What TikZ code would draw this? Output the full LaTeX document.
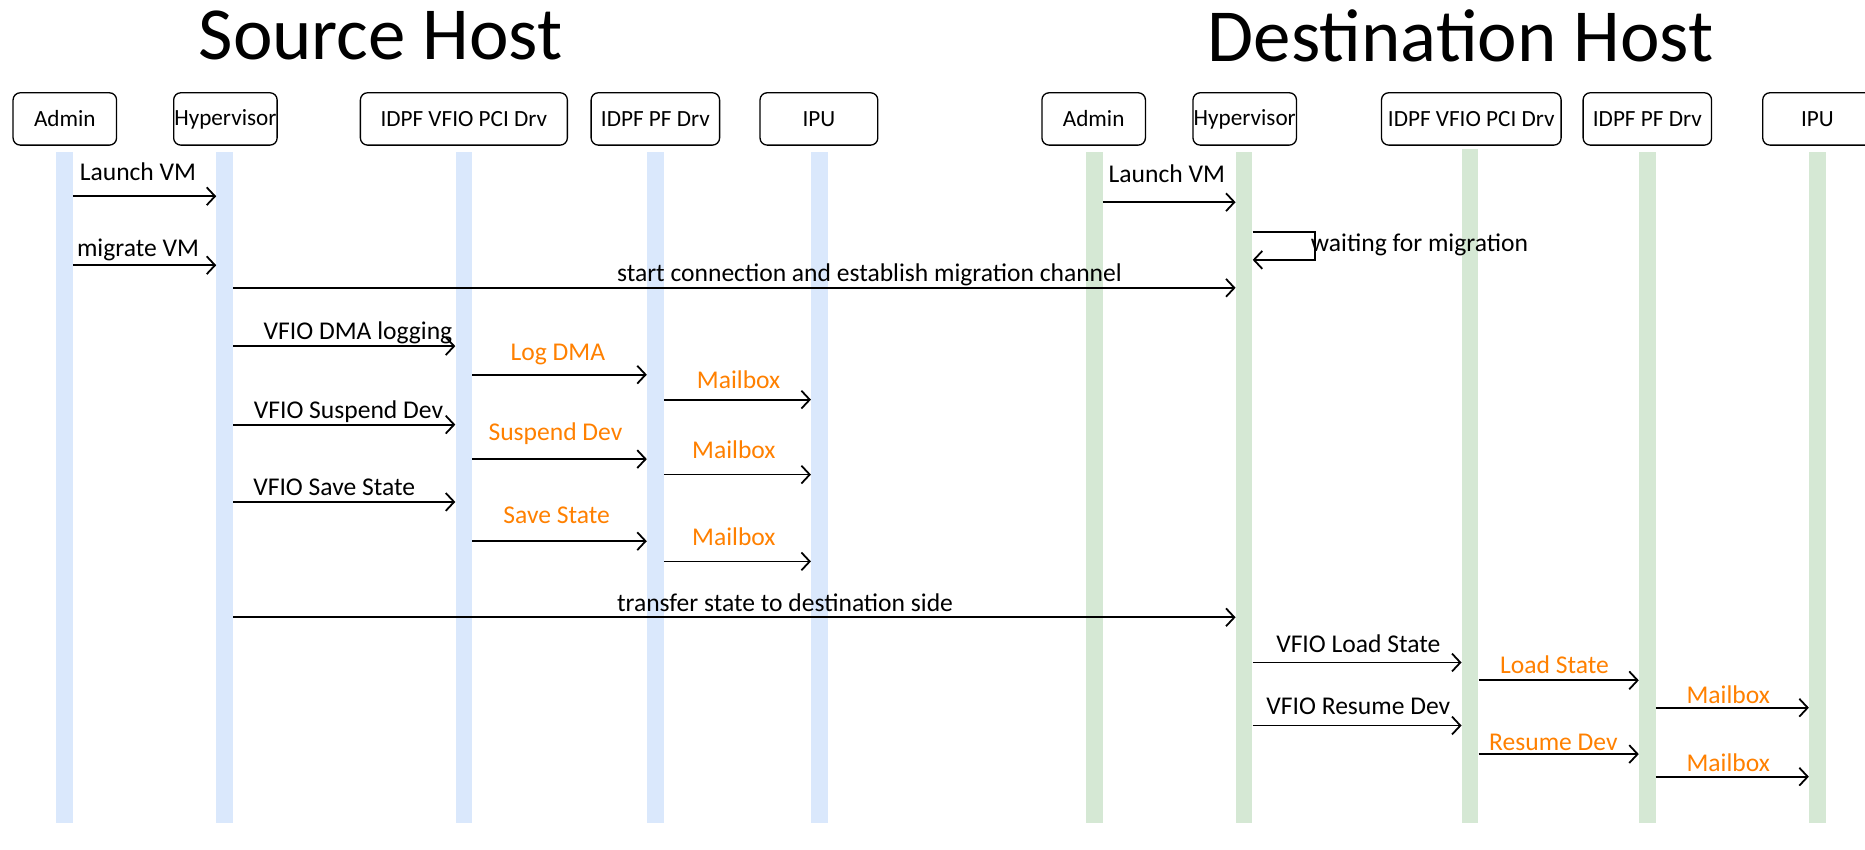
\documentclass[tikz,border=0pt]{standalone}
\usepackage{fontspec}
\setmainfont{Carlito}
\usetikzlibrary{arrows.meta}
\definecolor{srcbar}{HTML}{DAE8FC}
\definecolor{dstbar}{HTML}{D5E8D4}
\definecolor{drvorange}{HTML}{FF8000}
\begin{document}
\begin{tikzpicture}[x=1pt,y=-1pt,>={Straight Barb[length=7pt,width=15pt]},
  actor/.style={draw,rounded corners=6pt,line width=1.1pt,minimum height=44pt,inner sep=0pt,font=\fontsize{19.5}{19.5}\selectfont},
  srcline/.style={fill=srcbar,minimum width=14pt,minimum height=564pt,inner sep=0pt},
  dstline/.style={fill=dstbar,minimum width=14pt,minimum height=564pt,inner sep=0pt},
  msg/.style={->,line width=1.5pt},
  lbl/.style={font=\fontsize{21.5}{21.5}\selectfont,inner sep=0pt},
  olbl/.style={lbl,text=drvorange}]
\useasboundingbox (0,0) rectangle (1568,714);
\begin{scope}
\clip (0,0) rectangle (1568,714);
% titles
\node[font=\fontsize{63}{63}\selectfont,inner sep=0pt] (srctitle) at (320,30) {Source Host};
\node[font=\fontsize{63}{63}\selectfont,inner sep=0pt] (dsttitle) at (1228,30) {Destination Host};
% source host actors
\node[actor,minimum width=87pt] (sadm) at (54.5,100) {Admin};
\node[actor,minimum width=87pt] (shyp) at (189.5,100) {Hypervisor};
\node[actor,minimum width=174pt] (svfio) at (390,100) {IDPF VFIO PCI Drv};
\node[actor,minimum width=108pt] (spf) at (551,100) {IDPF PF Drv};
\node[actor,minimum width=99pt] (sipu) at (688.5,100) {IPU};
% destination host actors
\node[actor,minimum width=87pt] (dadm) at (919.5,100) {Admin};
\node[actor,minimum width=87pt] (dhyp) at (1046.5,100) {Hypervisor};
\node[actor,minimum width=151pt] (dvfio) at (1237,100) {IDPF VFIO PCI Drv};
\node[actor,minimum width=108pt] (dpf) at (1385,100) {IDPF PF Drv};
\node[actor,minimum width=92pt] (dipu) at (1528,100) {IPU};
\end{scope}
% lifelines
\node[srcline] (la) at (54,410) {};
\node[srcline] (lb) at (189,410) {};
\node[srcline] (lc) at (390,410) {};
\node[srcline] (ld) at (551,410) {};
\node[srcline] (le) at (689,410) {};
\node[dstline] (ma) at (920,410) {};
\node[dstline] (mb) at (1046,410) {};
\node[dstline,minimum height=567pt] (mc) at (1236,408.5) {};
\node[dstline] (md) at (1385,410) {};
\node[dstline] (me) at (1528,410) {};
% source host messages
\draw[msg] (la.east |- 0,165) -- (lb.west |- 0,165);
\node[lbl] (t1) at (116,144) {Launch VM};
\draw[msg] (la.east |- 0,223) -- (lb.west |- 0,223);
\node[lbl] (t2) at (116,210) {migrate VM};
\draw[msg] (lb.east |- 0,242) -- (mb.west |- 0,242);
\node[lbl] (t3) at (731,231) {start connection and establish migration channel};
\draw[msg] (lb.east |- 0,291) -- (lc.west |- 0,291);
\node[lbl] (t4) at (301,280) {VFIO DMA logging};
\draw[msg] (lc.east |- 0,315) -- (ld.west |- 0,315);
\node[olbl] (t5) at (469,298) {Log DMA};
\draw[msg] (ld.east |- 0,336) -- (le.west |- 0,336);
\node[olbl] (t6) at (621,319) {Mailbox};
\draw[msg] (lb.east |- 0,357) -- (lc.west |- 0,357);
\node[lbl] (t7) at (293,346) {VFIO Suspend Dev};
\draw[msg] (lc.east |- 0,386) -- (ld.west |- 0,386);
\node[olbl] (t8) at (467,365) {Suspend Dev};
\draw[msg] (ld.east |- 0,399) -- (le.west |- 0,399);
\node[olbl] (t9) at (617,378) {Mailbox};
\draw[msg] (lb.east |- 0,422) -- (lc.west |- 0,422);
\node[lbl] (t10) at (281,410) {VFIO Save State};
\draw[msg] (lc.east |- 0,455) -- (ld.west |- 0,455);
\node[olbl] (t11) at (468,433) {Save State};
\draw[msg] (ld.east |- 0,472) -- (le.west |- 0,472);
\node[olbl] (t12) at (617,451) {Mailbox};
\draw[msg] (lb.east |- 0,519) -- (mb.west |- 0,519);
\node[lbl] (t13) at (660,507) {transfer state to destination side};
% destination host messages
\draw[msg] (ma.east |- 0,170) -- (mb.west |- 0,170);
\node[lbl] (u1) at (981,146) {Launch VM};
\draw[msg] (mb.east |- 0,195) -- (1105.5,195) -- (1105.5,218.5) -- (mb.east |- 0,218.5);
\node[lbl,anchor=west] (u2) at (1102,206) {waiting for migration};
\draw[msg] (mb.east |- 0,557) -- (mc.west |- 0,557);
\node[lbl] (u3) at (1142,541) {VFIO Load State};
\draw[msg] (mc.east |- 0,572) -- (md.west |- 0,572);
\node[olbl] (u4) at (1307,559) {Load State};
\draw[msg] (md.east |- 0,595) -- (me.west |- 0,595);
\node[olbl] (u5) at (1453,584) {Mailbox};
\draw[msg] (mb.east |- 0,610) -- (mc.west |- 0,610);
\node[lbl] (u6) at (1142,594) {VFIO Resume Dev};
\draw[msg] (mc.east |- 0,634) -- (md.west |- 0,634);
\node[olbl] (u7) at (1306,624) {Resume Dev};
\draw[msg] (md.east |- 0,653) -- (me.west |- 0,653);
\node[olbl] (u8) at (1453,641) {Mailbox};
\end{tikzpicture}
\end{document}
